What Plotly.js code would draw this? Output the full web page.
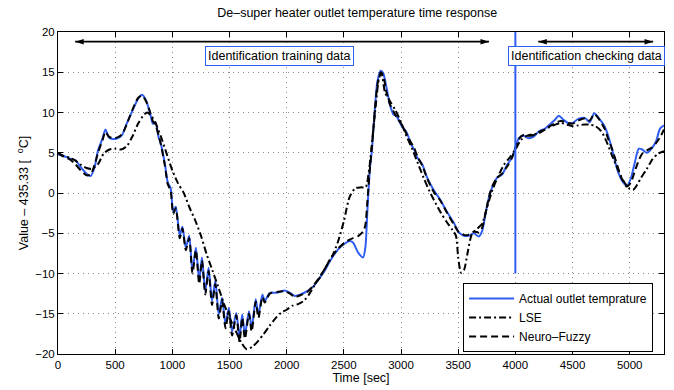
<!DOCTYPE html>
<html><head><meta charset="utf-8">
<script src="https://cdn.plot.ly/plotly-3.0.1.min.js"></script>
<style>html,body{margin:0;padding:0;background:#fff}#chart{width:674px;height:390px}</style>
</head><body><div id="chart"></div>
<script>
// ---- data ----
const time = [0,50,100,150,200,250,285,320,350,390,
  415,445,480,520,560,600,650,700,735,770,
  807,830,851,880,900,935,960,985,1008,1030,
  1065,1088,1118,1147,1176,1206,1235,1259,1288,1317,
  1347,1376,1406,1435,1465,1494,1523,1559,1588,1611,
  1635,1670,1694,1729,1753,1788,1808,1853,1912,1985,
  2030,2070,2120,2180,2240,2270,2330,2390,2450,2505,
  2550,2580,2625,2668,2688,2706,2726,2747,2770,2794,
  2823,2844,2873,2903,2932,2962,3006,3050,3090,3115,
  3142,3186,3229,3288,3346,3404,3462,3506,3549,3593,
  3637,3680,3710,3739,3768,3797,3840,3884,3928,3971,
  4000,4030,4070,4120,4160,4210,4260,4300,4340,4380,
  4420,4460,4500,4550,4610,4650,4690,4730,4780,4810,
  4850,4890,4930,4975,5010,5040,5080,5110,5150,5190,
  5230,5265,5300];
const actual = [4.8,4.6,4.3,4.1,3.2,2.4,2.1,3.2,5.3,6.8,
  7.9,6.9,6.7,6.8,7.2,8.6,10.2,11.7,12.2,11.5,
  9.8,8.6,8.8,6.9,6.1,3.6,1.3,0.6,-2.3,-1.7,
  -5.3,-4.2,-6.8,-5.3,-9.7,-6.8,-10.9,-8.0,-12.2,-9.3,
  -13.4,-10.9,-15.1,-13.0,-16.3,-14.3,-17.2,-14.9,-18.0,-15.1,
  -17.6,-14.7,-16.8,-13.2,-15.1,-12.6,-13.4,-12.4,-12.4,-12.1,
  -12.4,-12.8,-12.6,-12.2,-11.5,-10.9,-9.7,-8.2,-7.0,-6.3,
  -5.95,-6.15,-7.4,-8.0,-6.8,-2.2,2.7,5.6,10.2,13.9,
  15.2,14.9,13.1,11.0,9.8,9.5,8.3,7.5,6.0,5.4,
  4.4,3.55,1.9,0.3,-0.9,-2.4,-3.7,-4.9,-5.3,-5.3,
  -5.0,-5.4,-4.7,-2.6,-0.6,0.7,1.9,2.3,3.5,4.4,
  5.6,6.8,7.1,6.8,7.0,7.7,8.0,8.5,9.0,9.6,
  9.1,8.7,8.7,9.2,9.3,8.8,9.9,9.3,8.3,7.2,
  5.2,3.0,1.6,0.9,1.8,3.5,5.5,5.4,5.0,5.5,
  6.4,8.0,8.4];
const neuroFuzzy = [5.0,4.5,4.2,3.6,2.8,2.2,2.3,3.5,5.0,6.6,
  7.6,7.0,6.8,6.9,7.3,8.5,10.3,11.8,12.1,11.4,
  10.0,8.9,8.5,7.2,6.0,3.4,1.1,0.3,-2.6,-1.9,
  -5.6,-4.4,-7.1,-5.6,-10.0,-7.1,-11.3,-8.4,-12.6,-9.7,
  -13.9,-11.3,-15.6,-13.4,-16.8,-14.7,-17.7,-15.2,-18.5,-15.5,
  -18.1,-15.0,-17.2,-13.5,-15.5,-12.9,-13.6,-12.5,-12.3,-12.2,
  -12.5,-12.9,-12.7,-12.3,-11.4,-10.8,-9.5,-8.0,-6.9,-6.2,
  -5.8,-5.6,-5.35,-4.8,-4.0,-1.0,2.7,6.0,10.0,13.5,
  15.0,14.6,12.5,11.0,10.2,9.4,8.5,7.3,6.2,5.6,
  4.6,3.4,1.8,0.1,-1.0,-2.5,-3.9,-4.9,-5.2,-5.2,
  -4.8,-4.9,-4.3,-2.5,-0.6,0.8,1.9,2.4,3.3,4.4,
  5.6,6.7,7.2,7.1,7.2,7.6,7.9,8.3,8.6,8.9,
  8.9,8.7,8.6,9.0,9.3,9.0,9.8,9.2,8.0,6.8,
  5.3,3.5,1.8,0.8,1.3,2.5,4.1,4.9,5.3,5.6,
  6.2,6.9,7.9];
const timeLSE = [0,50,100,150,200,250,300,350,400,450,
  500,550,600,650,700,750,780,820,850,900,
  950,1000,1050,1100,1150,1200,1250,1300,1350,1400,
  1450,1500,1550,1600,1650,1700,1750,1800,1850,1900,
  1950,2000,2050,2100,2150,2200,2250,2300,2350,2400,
  2450,2500,2550,2600,2650,2690,2720,2750,2780,2810,
  2830,2860,2900,2950,3000,3050,3100,3150,3200,3250,
  3300,3350,3400,3450,3480,3500,3525,3550,3580,3620,
  3670,3710,3750,3800,3850,3900,3950,4000,4050,4100,
  4150,4200,4250,4300,4350,4400,4450,4500,4550,4600,
  4650,4700,4750,4800,4850,4900,4950,5000,5030,5060,
  5100,5150,5200,5250,5300];
const lse = [5.0,4.6,4.4,4.05,3.5,3.1,3.0,3.6,4.9,5.4,
  5.5,5.4,5.8,7.0,8.6,9.7,10.0,9.5,8.8,7.0,
  4.9,2.8,1.2,0.0,-1.8,-3.4,-5.3,-7.6,-9.6,-11.6,
  -13.7,-15.5,-17.0,-18.5,-19.4,-19.1,-18.4,-17.5,-16.5,-15.6,
  -14.9,-14.5,-14.0,-13.8,-13.4,-12.5,-11.3,-10.3,-9.0,-7.8,
  -6.0,-3.5,-0.5,0.6,0.7,0.7,2.8,6.8,11.0,14.4,
  14.8,12.5,11.5,10.3,8.8,7.0,5.4,3.6,1.8,0.2,
  -1.2,-2.5,-3.6,-4.6,-5.3,-8.0,-9.9,-9.6,-7.6,-5.1,
  -4.4,-3.8,-1.9,0.4,2.1,3.5,4.4,5.4,6.6,7.1,
  7.3,7.4,7.8,8.2,8.5,8.7,8.5,8.3,8.4,8.5,
  8.5,8.3,7.7,6.3,4.5,2.8,1.4,0.5,0.4,0.9,
  1.9,3.0,4.2,4.9,5.2];

const seriesNames = ['Actual outlet temprature', 'LSE', 'Neuro\u2013Fuzzy'];
const chartTitle = 'De\u2013super heater outlet temperature time response';
const xTitle = 'Time [sec]';
const yTitle = 'Value \u2013 435.33 [\u00a0 <sup>o</sup>C]';
const trainingLabel = 'Identification training data';
const checkingLabel = 'Identification checking data';
const checkStart = 4000;          // split between training and checking data
const splitLineBottom = -10;
const trainArrow = [150, 3770];
const checkArrow = [4200, 5205];
const arrowLevel = 18.8;
const labelLevel = 17.0;
const trainLabelX = 1940;
const checkLabelX = 4620;

// ---- style ----
const BLUE = '#2f5df2';
const FONT = 'Liberation Sans, Arial, sans-serif';

function arrowTrace(ends) {
  return {x: ends, y: [arrowLevel, arrowLevel], mode: 'lines+markers', showlegend: false,
    hoverinfo: 'skip', cliponaxis: false,
    line: {color: '#000', width: 1.6},
    marker: {symbol: 'arrow', size: 9, color: '#000', angle: [-90, 90], line: {width: 0}}};
}

const traces = [
  {x: time, y: actual, name: seriesNames[0], mode: 'lines',
   line: {color: BLUE, width: 2, shape: 'spline', smoothing: 0.7}},
  {x: timeLSE, y: lse, name: seriesNames[1], mode: 'lines',
   line: {color: '#000', width: 2, dash: '7px,3px,2px,3px', shape: 'spline', smoothing: 0.7}},
  {x: time, y: neuroFuzzy, name: seriesNames[2], mode: 'lines',
   line: {color: '#000', width: 2, dash: '7px,4px', shape: 'spline', smoothing: 0.7}},
  arrowTrace(trainArrow),
  arrowTrace(checkArrow)
];

const axisCommon = {
  showline: true, linecolor: '#000', linewidth: 1, mirror: 'ticks',
  ticks: 'inside', ticklen: 5, tickcolor: '#000', tickwidth: 1,
  showgrid: true, gridcolor: '#8a8a8a', gridwidth: 1, griddash: '1px,4px',
  zeroline: false, tickfont: {size: 11.5, color: '#000', family: FONT}
};

const boxCommon = {xref: 'x', yref: 'y', showarrow: false, bgcolor: '#fff',
  bordercolor: BLUE, borderwidth: 1, borderpad: 2,
  font: {size: 12.5, color: '#000', family: FONT}};

const layout = {
  width: 674, height: 390,
  margin: {l: 58, r: 10, t: 32, b: 36},
  paper_bgcolor: '#fff', plot_bgcolor: '#fff',
  font: {family: FONT, size: 12, color: '#000'},
  title: {text: chartTitle, x: 0.53, xanchor: 'center', y: 0.967, yref: 'container', yanchor: 'middle',
          font: {size: 12.5, family: FONT, color: '#000'}},
  xaxis: Object.assign({}, axisCommon, {range: [0, 5300], tick0: 0, dtick: 500,
          title: {text: xTitle, standoff: 2, font: {size: 12.5, family: FONT}}}),
  yaxis: Object.assign({}, axisCommon, {range: [-20, 20], tick0: -20, dtick: 5,
          title: {text: yTitle, standoff: 3, font: {size: 12.5, family: FONT}}}),
  legend: {x: 0.982, xanchor: 'right', y: 0.006, yanchor: 'bottom',
           bordercolor: '#000', borderwidth: 1, bgcolor: '#fff', itemwidth: 45,
           font: {size: 12, family: FONT, color: '#000'}, tracegroupgap: 0},
  shapes: [{type: 'line', xref: 'x', yref: 'y', x0: checkStart, x1: checkStart,
            y0: splitLineBottom, y1: 20, line: {color: BLUE, width: 2}}],
  annotations: [
    Object.assign({}, boxCommon, {x: trainLabelX, y: labelLevel, text: trainingLabel}),
    Object.assign({}, boxCommon, {x: checkLabelX, y: labelLevel, text: checkingLabel})
  ],
  showlegend: true
};

Plotly.newPlot('chart', traces, layout, {displayModeBar: false, staticPlot: true});
</script>
</body></html>
